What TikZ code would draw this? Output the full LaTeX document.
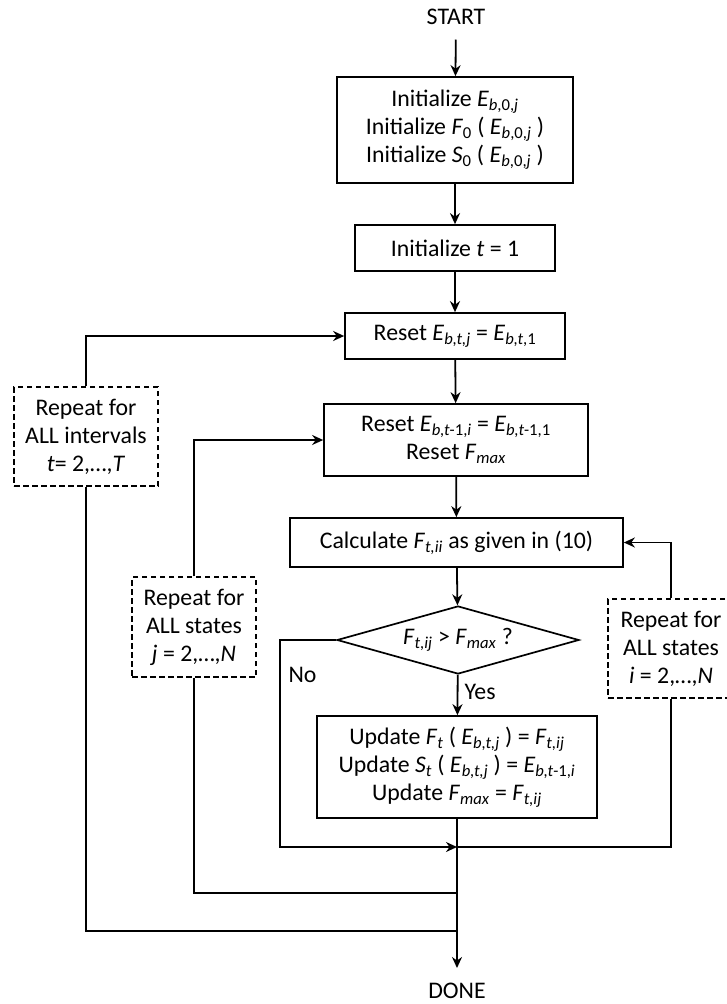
\documentclass[tikz,border=0pt]{standalone}
\usepackage{fontspec}
\setmainfont{Carlito}
\usetikzlibrary{positioning}
\usetikzlibrary{calc}
\usetikzlibrary{shapes.geometric}
\usetikzlibrary{arrows.meta}

\newcommand{\varsub}[2]{\textit{#1}\textsubscript{#2}}

\begin{document}
\begin{tikzpicture}[
        x=1pt,
        y=-1pt,
        every node/.style={
            font=\fontsize{23.8}{28}\selectfont,
        },
        terminal/.style={
            inner sep=15pt,
        },
        block/.style={
            draw,
            line width=1.7pt,
            align=center,
            inner sep=0pt,
        },
        decision/.style={
            draw,
            diamond,
            aspect=3.5,
            line width=1.7pt,
            inner sep=0pt,
            minimum width=242pt,
            minimum height=68pt,
        },
        repeatbox/.style={
            draw,
            line width=1.4pt,
            dash pattern=on 5.5pt off 3.5pt,
            align=center,
            inner sep=0pt,
        },
        flow/.style={
            -{Stealth[length=11pt,width=10pt]},
            line width=1.8pt,
        },
        line/.style={
            line width=1.8pt,
        },
    ]
    \useasboundingbox (0,0) rectangle (727,1004);

    % Define main column.
    \node[terminal] (start) at (456,16.5) {START};
    \node[block, minimum width=236pt, minimum height=106pt] (init) at (455,130)
        {Initialize \varsub{E}{\textit{b},0,\textit{j}}\\
         Initialize \varsub{F}{0} ( \varsub{E}{\textit{b},0,\textit{j}} )\\
         Initialize \varsub{S}{0} ( \varsub{E}{\textit{b},0,\textit{j}} )};
    \node[block, minimum width=200pt, minimum height=46pt] (initt) at (455,248)
        {Initialize \textit{t} = 1};
    \node[block, minimum width=220pt, minimum height=46pt] (resetj) at (455,336)
        {Reset \varsub{E}{\textit{b,t,j}} = \varsub{E}{\textit{b,t},1}};
    \node[block, minimum width=264pt, minimum height=72pt] (reseti) at (456,440)
        {Reset \varsub{E}{\textit{b,t}-1,\textit{i}} = \varsub{E}{\textit{b,t}-1,1}\\
         Reset \varsub{F}{\textit{max}}};
    \node[block, minimum width=333pt, minimum height=49pt] (calc) at (456.5,542.5)
        {Calculate \varsub{F}{\textit{t,ii}} as given in (10)};
    \node[decision] (decide) at (458,640)
        {\varsub{F}{\textit{t,ij}} > \varsub{F}{\textit{max}} ?};
    \node[block, minimum width=280pt, minimum height=102pt] (update) at (457,767)
        {Update \varsub{F}{\textit{t}} ( \varsub{E}{\textit{b,t,j}} ) = \varsub{F}{\textit{t,ij}}\\
         Update \varsub{S}{\textit{t}} ( \varsub{E}{\textit{b,t,j}} ) = \varsub{E}{\textit{b,t}-1,\textit{i}}\\
         Update \varsub{F}{\textit{max}} = \varsub{F}{\textit{t,ij}}};
    \node[terminal] (done) at (457,991) {DONE};

    % Define loop boxes.
    \node[repeatbox, minimum width=144pt, minimum height=99pt] (loopt) at (86,436.5)
        {Repeat for\\ALL intervals\\\textit{t}= 2,…,\textit{T}};
    \node[repeatbox, minimum width=124pt, minimum height=100pt] (loopj) at (194,627)
        {Repeat for\\ALL states\\\textit{j} = 2,…,\textit{N}};
    \node[repeatbox, minimum width=126pt, minimum height=99pt] (loopi) at (671,648.5)
        {Repeat for\\ALL states\\\textit{i} = 2,…,\textit{N}};

    % Define joins on the way out.
    \coordinate (join) at (457,847);
    \coordinate (joinj) at (457,893);
    \coordinate (joint) at (457,931);
    \coordinate (nobend) at (280,847);

    % Draw main flow.
    \draw[flow] (start) -- (init);
    \draw[flow] (init) -- (initt);
    \draw[flow] (initt) -- (resetj);
    \draw[flow] (resetj) -- (reseti);
    \draw[flow] (reseti) -- (calc);
    \draw[flow] (calc) -- (decide);
    \draw[flow] (decide) -- (update);
    \draw[flow] (update) -- (done);

    \node[anchor=west] (yeslabel) at (461,692) {Yes};
    \node[anchor=west] (nolabel) at (285,675) {No};

    \draw[flow] (decide) -| (nobend) -- (join);

    % Draw loops.
    \draw[flow] (loopi) |- (calc);
    \draw[line] (loopi) |- (join);

    \draw[flow] (loopj) |- (reseti);
    \draw[line] (loopj) |- (joinj);

    \draw[flow] (loopt) |- (resetj);
    \draw[line] (loopt) |- (joint);

\end{tikzpicture}
\end{document}
